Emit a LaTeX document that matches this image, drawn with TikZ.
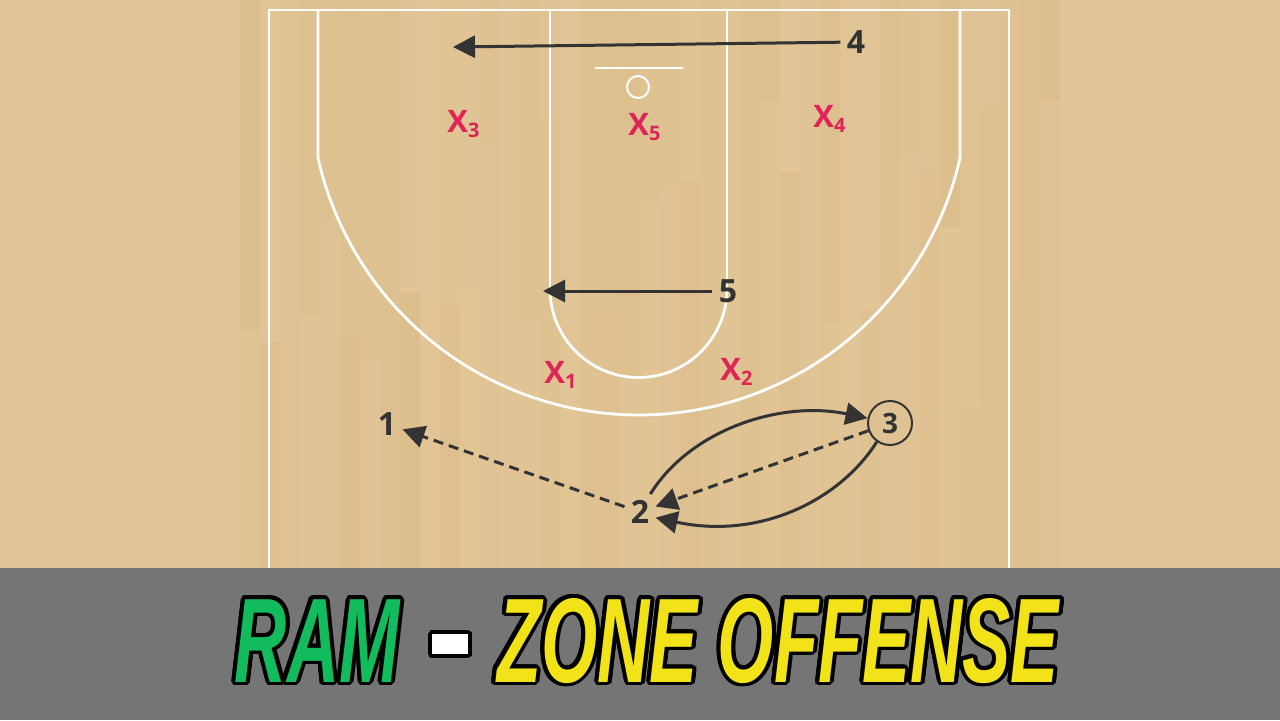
\documentclass[tikz,border=0pt]{standalone}
\usepackage{fontspec}
\setmainfont{Open Sans}
\newfontfamily\titlefont{Liberation Sans}
\usetikzlibrary{arrows.meta,calc}

\definecolor{wood}{RGB}{226,198,151}
\definecolor{plankdark}{RGB}{212,178,126}
\definecolor{banner}{RGB}{117,117,117}
\definecolor{ink}{RGB}{51,51,51}
\definecolor{defred}{RGB}{224,36,88}
\definecolor{ramgreen}{RGB}{18,188,92}
\definecolor{titleyellow}{RGB}{242,226,24}

\newcommand\defsub[1]{\raisebox{-2.5pt}{\fontsize{10}{10}\selectfont #1}}
\newcommand\ramtitle[3]{\resizebox{412pt}{42pt}{\titlefont\itshape\bfseries
  \textcolor{#1}{RAM}\hspace{0.45em}\textcolor{#2}{\rule[0.23em]{0.5em}{0.17em}}\hspace{0.4em}\textcolor{#3}{ZONE OFFENSE}}}

\tikzset{
  courtline/.style={white, line width=1.4pt},
  offense/.style={text=ink, font=\fontsize{16}{16}\selectfont\bfseries, inner sep=3pt},
  ballhandler/.style={offense, draw=ink, line width=1pt, circle, minimum size=22pt, inner sep=0pt,
    font=\fontsize{14}{14}\selectfont\bfseries},
  defense/.style={text=defred, font=\fontsize{15.5}{15.5}\selectfont\bfseries, inner sep=0pt, anchor=base west},
  move/.style={draw=ink, line width=1.5pt, -{Triangle[length=11pt,width=11pt]}},
  pass/.style={move, dash pattern=on 5pt off 3pt},
}

\begin{document}
\begin{tikzpicture}[x=0.5pt, y=-0.5pt]
  % floor with planks
  \fill[wood] (0,0) rectangle (1280,720);
  \pgfmathsetseed{11}
  \foreach \col in {0,...,40} {
    \pgfmathsetmacro\brk{100+350*rnd}
    \pgfmathsetmacro\opa{0.35*rnd}
    \pgfmathsetmacro\opb{0.35*rnd}
    \fill[plankdark, fill opacity=\opa] (240+20*\col,0) rectangle (260+20*\col,\brk);
    \fill[plankdark, fill opacity=\opb] (240+20*\col,\brk) rectangle (260+20*\col,568);
  }

  % court lines
  \draw[courtline] (269,568) -- (269,10) -- (1009,10) -- (1009,568);
  \draw[courtline] (550,10) -- (550,289) (727,10) -- (727,289);
  \draw[courtline] plot[domain=0:180, samples=60] ({638.5+88.5*cos(\x)},{289+88.5*sin(\x)});
  \draw[courtline] (318,10) -- plot[domain=167.4:12.6, samples=90] ({639+329*cos(\x)},{86+329*sin(\x)}) -- (960,10);

  % basket
  \draw[courtline] (595,68) -- (683,68);
  \draw[courtline, line width=1pt] (638,87) circle[radius=5.5pt];

  % defenders
  \node[defense] (x1) at (544,383) {X\defsub{1}};
  \node[defense] (x2) at (720,380) {X\defsub{2}};
  \node[defense] (x3) at (447,132) {X\defsub{3}};
  \node[defense] (x4) at (813,127) {X\defsub{4}};
  \node[defense] (x5) at (628,135) {X\defsub{5}};

  % offense
  \node[offense] (p1) at (387,424) {1};
  \node[offense] (p2) at (640,512) {2};
  \node[ballhandler] (p3) at (890,423) {3};
  \node[offense] (p4) at (856,42) {4};
  \node[offense] (p5) at (728,291) {5};
  \coordinate (to4) at (453,47);
  \coordinate (to5) at (543,291);

  % cuts
  \draw[move] (p4) -- (to4);
  \draw[move] (p5) -- (to5);
  \draw[move] (p2.60) .. controls (690,430) and (780,400) .. (p3.168);
  \draw[move] (p3.235) .. controls (840,500) and (760,540) .. (p2.-20);

  % passes
  \draw[pass] (p2) -- (p1);
  \draw[pass] (p3) -- (p2);

  % title banner
  \fill[banner] (0,568) rectangle (1280,720);
  \coordinate (title) at (647,682);
  \foreach \a in {0,24,...,336}
    \node[anchor=base, inner sep=0pt] (shade\a) at ($(title)+(\a:2pt)$) {\ramtitle{black}{black}{black}};
  \node[anchor=base, inner sep=0pt] (heading) at (title) {\ramtitle{ramgreen}{white}{titleyellow}};
\end{tikzpicture}
\end{document}
